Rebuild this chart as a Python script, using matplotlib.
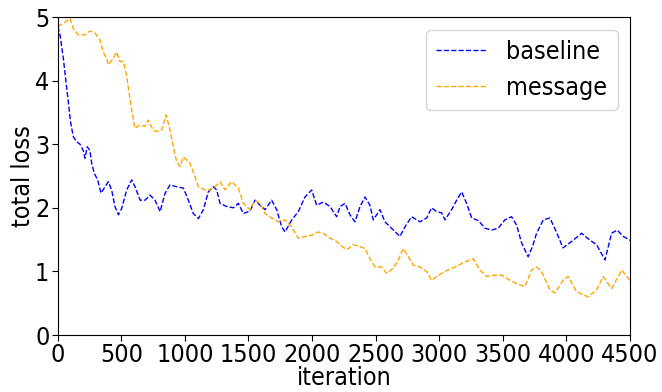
import matplotlib
matplotlib.use("Agg")
import matplotlib.pyplot as plt

plt.rcParams['font.family'] = ['DejaVu Sans']
plt.rcParams['font.stretch'] = 'condensed'

# readings (iteration, total loss)
baseline_it = [0, 18, 44, 65, 83, 101, 122, 148, 175, 201, 214, 232, 253, 267, 288,
               314, 340, 372, 398, 424, 450, 477, 503, 542, 582, 608, 648, 687, 726,
               765, 805, 844, 883, 936, 988, 1027, 1066, 1106, 1145, 1184, 1224, 1250,
               1276, 1329, 1381, 1420, 1460, 1512, 1551, 1591, 1630, 1682, 1722, 1761,
               1787, 1840, 1892, 1944, 1997, 2036, 2088, 2141, 2193, 2220, 2259, 2298,
               2337, 2377, 2416, 2455, 2481, 2534, 2573, 2639, 2691, 2730, 2783, 2848,
               2901, 2940, 2980, 3019, 3045, 3097, 3137, 3176, 3215, 3255, 3307, 3359,
               3412, 3464, 3516, 3568, 3608, 3647, 3699, 3735, 3765, 3818, 3870, 3921,
               3973, 4053, 4119, 4185, 4237, 4303, 4355, 4399, 4447, 4500]
baseline_loss = [4.85, 4.72, 4.35, 3.98, 3.67, 3.35, 3.12, 3.04, 3.0, 2.9, 2.78, 2.96,
                 2.9, 2.70, 2.54, 2.44, 2.23, 2.33, 2.41, 2.28, 2.02, 1.89, 1.99, 2.28,
                 2.44, 2.33, 2.12, 2.12, 2.2, 2.12, 1.94, 2.23, 2.36, 2.33, 2.31, 2.12,
                 1.91, 1.83, 1.97, 2.25, 2.33, 2.28, 2.07, 2.02, 2.0, 2.07, 1.91, 1.95,
                 2.12, 2.04, 1.97, 2.12, 1.97, 1.70, 1.62, 1.81, 1.94, 2.17, 2.28, 2.04,
                 2.09, 2.02, 1.86, 2.02, 2.07, 1.89, 1.78, 2.02, 2.17, 2.04, 1.81, 1.97,
                 1.78, 1.65, 1.55, 1.7, 1.86, 1.78, 1.84, 2.0, 1.94, 1.92, 1.81, 1.97,
                 2.12, 2.25, 2.07, 1.84, 1.8, 1.68, 1.65, 1.68, 1.81, 1.86, 1.73, 1.45,
                 1.23, 1.4, 1.6, 1.81, 1.84, 1.62, 1.37, 1.49, 1.6, 1.49, 1.42, 1.18,
                 1.6, 1.65, 1.55, 1.49]

message_it = [0, 44, 96, 122, 162, 214, 253, 293, 332, 358, 384, 398, 437, 463, 489,
              515, 541, 559, 580, 606, 645, 685, 711, 751, 778, 817, 852, 883, 909,
              936, 962, 988, 1040, 1080, 1106, 1158, 1197, 1237, 1276, 1316, 1368,
              1420, 1460, 1512, 1551, 1591, 1630, 1682, 1735, 1787, 1840, 1892, 1944,
              1997, 2049, 2088, 2141, 2193, 2246, 2272, 2325, 2377, 2416, 2455, 2495,
              2547, 2586, 2639, 2678, 2717, 2757, 2796, 2848, 2901, 2940, 2980, 3045,
              3124, 3202, 3268, 3320, 3372, 3425, 3491, 3556, 3608, 3673, 3726, 3765,
              3804, 3870, 3910, 3974, 4014, 4079, 4171, 4237, 4289, 4355, 4434, 4500]
message_loss = [4.85, 4.90, 4.98, 4.82, 4.72, 4.72, 4.78, 4.75, 4.64, 4.45, 4.35, 4.25,
                4.35, 4.45, 4.30, 4.3, 4.09, 3.83, 3.56, 3.25, 3.3, 3.28, 3.38, 3.22,
                3.2, 3.22, 3.46, 3.22, 2.96, 2.72, 2.65, 2.80, 2.70, 2.49, 2.33, 2.28,
                2.28, 2.33, 2.41, 2.28, 2.41, 2.31, 2.07, 1.97, 2.12, 2.07, 1.91, 1.84,
                1.78, 1.81, 1.70, 1.52, 1.55, 1.57, 1.62, 1.6, 1.52, 1.47, 1.38, 1.34,
                1.42, 1.39, 1.36, 1.2, 1.07, 1.07, 0.97, 1.05, 1.18, 1.36, 1.23, 1.1,
                1.07, 1.0, 0.86, 0.92, 1.0, 1.07, 1.15, 1.2, 1.02, 0.92, 0.94, 0.94,
                0.86, 0.81, 0.76, 1.02, 1.07, 1.0, 0.71, 0.66, 0.86, 0.92, 0.68, 0.60,
                0.71, 0.92, 0.73, 1.02, 0.86]

xticks = [0, 500, 1000, 1500, 2000, 2500, 3000, 3500, 4000, 4500]
yticks = [0, 1, 2, 3, 4, 5]

fig = plt.figure(figsize=(6.62, 3.92), dpi=100)
ax = fig.add_axes([0.0872, 0.1454, 0.8645, 0.8112])

ax.plot(baseline_it, baseline_loss, '--', color='blue', lw=1.0, label='baseline')
ax.plot(message_it, message_loss, '--', color='orange', lw=1.0, label='message')

ax.set_xlim(0, 4500)
ax.set_ylim(0, 5)
ax.set_xticks(xticks)
ax.set_yticks(yticks)
ax.tick_params(labelsize=18, length=4, pad=2)
ax.set_xlabel('iteration', fontsize=18, labelpad=-1)
ax.set_ylabel('total loss', fontsize=18, labelpad=0)
ax.legend(loc='upper right', fontsize=18, borderaxespad=0.5)

fig.savefig('out.png', dpi=100)
